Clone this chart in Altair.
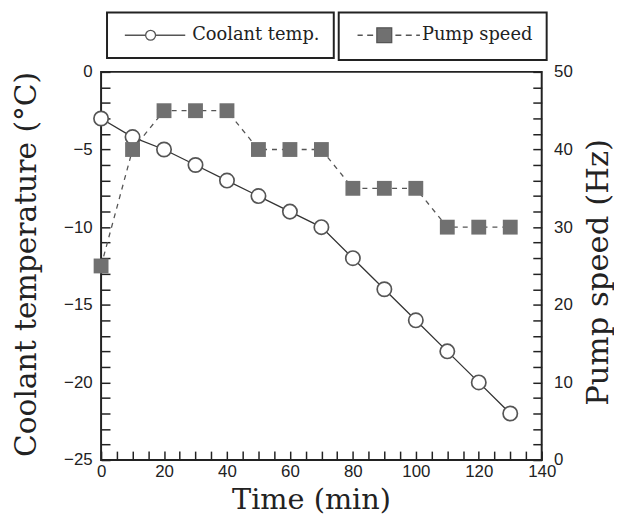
import altair as alt
import pandas as pd

# ---- data ----
time_min = [0, 10, 20, 30, 40, 50, 60, 70, 80, 90, 100, 110, 120, 130]
coolant_temp = [-3, -4.2, -5, -6, -7, -8, -9, -10, -12, -14, -16, -18, -20, -22]
pump_speed = [25, 40, 45, 45, 45, 40, 40, 40, 35, 35, 35, 30, 30, 30]

# tick positions (every minor step); labels only on the major steps
x_tick_values = list(range(0, 141, 5))
yc_tick_values = list(range(-25, 1, 1))
yp_tick_values = list(range(0, 51, 2))

coolant_name = "Coolant temp."
pump_name = "Pump speed"

df = pd.DataFrame({
    "time": time_min,
    "coolant": coolant_temp,
    "pump": pump_speed,
    "c_series": [coolant_name] * len(time_min),
    "p_series": [pump_name] * len(time_min),
})

W, H = 445, 392
TICK = 9  # inward tick length (axis shifted inside by the same amount)
INK = "#222"
LABEL_FONT = "Liberation Sans"
TITLE_FONT = "DejaVu Serif"

x_scale = alt.Scale(domain=[0, 140], nice=False, zero=False)
yc_scale = alt.Scale(domain=[-25, 0], nice=False, zero=False)
yp_scale = alt.Scale(domain=[0, 50], nice=False, zero=False)

common = dict(
    ticks=True, tickSize=TICK, tickWidth=1.5, tickColor=INK, offset=-TICK,
    domain=False, grid=False, labelFlush=False, labelOverlap=False,
    labelFont=LABEL_FONT, labelFontSize=17, labelColor=INK,
    titleFont=TITLE_FONT, titleFontWeight="normal", titleColor=INK,
    titleAlign="center", titleBaseline="alphabetic",
)

x_axis = alt.Axis(
    values=x_tick_values, labelExpr="datum.value % 20 === 0 ? datum.label : ''",
    labelPadding=4, title="Time (min)", titleFontSize=29, titleAngle=0,
    titleX=212, titleY=49 + TICK, **common,
)
yc_axis = alt.Axis(
    orient="left", values=yc_tick_values,
    labelExpr="datum.value % 5 === 0 ? datum.label : ''",
    labelPadding=9, labelBaseline="middle",
    title="Coolant temperature (°C)", titleFontSize=30, titleAngle=270,
    titleX=-66 - TICK, titleY=194, **common,
)
yp_axis = alt.Axis(
    orient="right", values=yp_tick_values,
    labelExpr="datum.value % 10 === 0 ? datum.label : ''",
    labelPadding=12, labelBaseline="middle",
    title="Pump speed (Hz)", titleFontSize=31, titleAngle=270,
    titleX=66 + TICK, titleY=202, **common,
)

# custom legend symbols (unit box [-1, 1])
coolant_symbol = "M-5.2,0L-1,0M1,0L7,0M1,0A1,1,0,1,1,-1,0A1,1,0,1,1,1,0Z"
pump_symbol = ("M-3.6,0L-2.9,0M-2.3,0L-1.5,0M-1,-1L1,-1L1,1L-1,1Z"
               "M1.5,0L2.3,0M2.9,0L3.7,0M4.3,0L4.8,0")

leg_c = alt.Legend(
    title=None, orient="none", legendX=6, legendY=-60,
    symbolType=coolant_symbol, symbolSize=100, symbolStrokeColor="#444",
    symbolFillColor="white", symbolStrokeWidth=1.3, symbolOffset=21,
    labelOffset=33, labelFont=TITLE_FONT, labelFontSize=18, labelColor=INK,
    strokeColor=INK, fillColor="white", padding=14, cornerRadius=0,
)
leg_p = alt.Legend(
    title=None, orient="none", legendX=240, legendY=-60,
    symbolType=pump_symbol, symbolSize=225, symbolStrokeColor="#555",
    symbolFillColor="#707070", symbolStrokeWidth=1.3, symbolOffset=23,
    labelOffset=29, labelFont=TITLE_FONT, labelFontSize=18, labelColor=INK,
    strokeColor=INK, fillColor="white", padding=14, cornerRadius=0,
)

base = alt.Chart(df)
X = alt.X("time:Q", scale=x_scale, axis=x_axis)

line_c = base.mark_line(color="#333", strokeWidth=1.3).encode(
    x=X, y=alt.Y("coolant:Q", scale=yc_scale, axis=yc_axis))
line_p = base.mark_line(color="#555", strokeWidth=1.3, strokeDash=[5, 5]).encode(
    x=X, y=alt.Y("pump:Q", scale=yp_scale, axis=yp_axis))
pts_c = base.mark_point(shape="circle", size=210, filled=False, fill="white",
                        fillOpacity=1, strokeWidth=1.7, opacity=1).encode(
    x=X, y=alt.Y("coolant:Q", scale=yc_scale, axis=None),
    color=alt.Color("c_series:N", scale=alt.Scale(domain=[coolant_name], range=["#555"]),
                    legend=leg_c))
pts_p = base.mark_point(shape="square", size=225, filled=True, opacity=1).encode(
    x=X, y=alt.Y("pump:Q", scale=yp_scale, axis=None),
    color=alt.Color("p_series:N", scale=alt.Scale(domain=[pump_name], range=["#707070"]),
                    legend=leg_p))

chart = (
    alt.layer(line_c, line_p, pts_c, pts_p)
    .resolve_scale(y="independent", color="independent")
    .properties(
        width=W, height=H,
        padding={"left": 94, "top": 62, "right": 73, "bottom": 54},
        autosize=alt.AutoSizeParams(type="none"),
        background="white",
    )
    .configure_view(stroke=INK, strokeWidth=2)
    .configure_legend(strokeWidth=2)
)

chart.save("out.html", embed_options={"renderer": "svg", "actions": False})
